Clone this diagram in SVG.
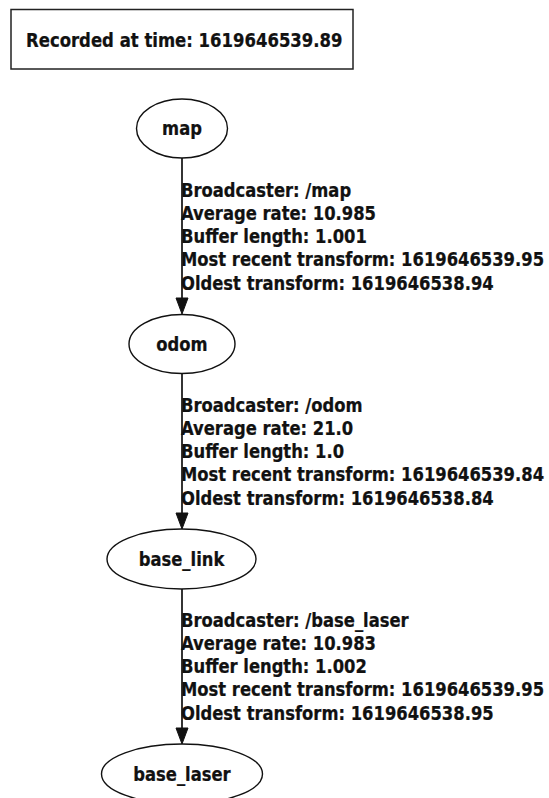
<svg xmlns="http://www.w3.org/2000/svg" width="549" height="798" viewBox="0 0 549 798">
<style>
  text { font-family: "DejaVu Sans", "Liberation Sans", sans-serif; font-weight: bold; font-size: 19.4px; fill: #111; stroke: #111; stroke-width: 0.25; }
  .node ellipse { fill: #fff; stroke: #111; stroke-width: 1.4; }
  .mid { text-anchor: middle; }
  .edge line { stroke: #111; stroke-width: 1.7; }
  .edge polygon { fill: #111; stroke: #111; stroke-width: 1; }
</style>
<rect width="549" height="798" fill="#fff"/>
<g id="title">
  <rect x="11" y="9.5" width="342" height="59.5" fill="#fff" stroke="#222" stroke-width="1.5"/>
  <text transform="matrix(0.85 0 0 1 26 46.5)">Recorded at time: 1619646539.89</text>
</g>
<g id="connectors" class="edge">
  <line x1="182" y1="158" x2="182" y2="300"/>
  <polygon points="176,298 188,298 182,314"/>
  <line x1="182" y1="374" x2="182" y2="515"/>
  <polygon points="176,513 188,513 182,529"/>
  <line x1="182" y1="589" x2="182" y2="730"/>
  <polygon points="176,728 188,728 182,744"/>
  <g id="label-map-odom">
    <text transform="matrix(0.845 0 0 1 181 196.5)">Broadcaster: /map</text>
    <text transform="matrix(0.845 0 0 1 181 219.8)">Average rate: 10.985</text>
    <text transform="matrix(0.845 0 0 1 181 243.1)">Buffer length: 1.001</text>
    <text transform="matrix(0.845 0 0 1 181 266.4)">Most recent transform: 1619646539.95</text>
    <text transform="matrix(0.845 0 0 1 181 289.7)">Oldest transform: 1619646538.94</text>
  </g>
  <g id="label-odom-base_link">
    <text transform="matrix(0.845 0 0 1 181 411.5)">Broadcaster: /odom</text>
    <text transform="matrix(0.845 0 0 1 181 434.8)">Average rate: 21.0</text>
    <text transform="matrix(0.845 0 0 1 181 458.1)">Buffer length: 1.0</text>
    <text transform="matrix(0.845 0 0 1 181 481.4)">Most recent transform: 1619646539.84</text>
    <text transform="matrix(0.845 0 0 1 181 504.7)">Oldest transform: 1619646538.84</text>
  </g>
  <g id="label-base_link-base_laser">
    <text transform="matrix(0.845 0 0 1 181 626.5)">Broadcaster: /base_laser</text>
    <text transform="matrix(0.845 0 0 1 181 649.8)">Average rate: 10.983</text>
    <text transform="matrix(0.845 0 0 1 181 673.1)">Buffer length: 1.002</text>
    <text transform="matrix(0.845 0 0 1 181 696.4)">Most recent transform: 1619646539.95</text>
    <text transform="matrix(0.845 0 0 1 181 719.7)">Oldest transform: 1619646538.95</text>
  </g>
</g>
<g id="map" class="node">
  <ellipse cx="182" cy="128.5" rx="45.5" ry="29.5"/>
  <text class="mid" transform="matrix(0.845 0 0 1 182 135)">map</text>
</g>
<g id="odom" class="node">
  <ellipse cx="182" cy="344" rx="53" ry="29.5"/>
  <text class="mid" transform="matrix(0.845 0 0 1 182 350.5)">odom</text>
</g>
<g id="base_link" class="node">
  <ellipse cx="181.5" cy="559" rx="74.5" ry="30"/>
  <text class="mid" transform="matrix(0.845 0 0 1 181.5 565.5)">base_link</text>
</g>
<g id="base_laser" class="node">
  <ellipse cx="182" cy="774" rx="80.5" ry="30"/>
  <text class="mid" transform="matrix(0.845 0 0 1 182 780.5)">base_laser</text>
</g>
</svg>
